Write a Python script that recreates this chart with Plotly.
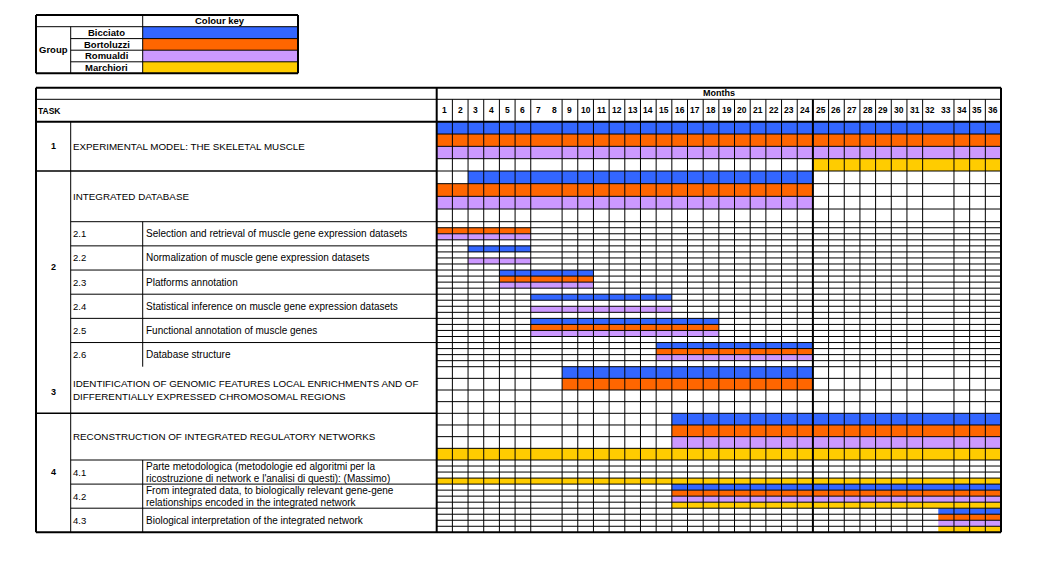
import plotly.graph_objects as go
import numpy as np

W, H = 1040, 588

# ---------------- data ----------------
groups = ["Bicciato", "Bortoluzzi", "Romualdi", "Marchiori"]
group_colors = ["#3366FF", "#FF6600", "#CC99FF", "#FFCC00"]

task_ids = ["1", "2", "2.1", "2.2", "2.3", "2.4", "2.5", "2.6", "3", "4", "4.1", "4.2", "4.3"]

# (first month, last month) of each group's activity per task row, None = no activity
bicciato_months = [(1, 36), (3, 24), None, (3, 6), (5, 10), (7, 15), (7, 18), (15, 24), (9, 24), (16, 36), None, (16, 36), (33, 36)]
bortoluzzi_months = [(1, 36), (1, 24), (1, 6), None, (5, 10), None, (7, 18), (15, 24), (9, 24), (16, 36), None, (16, 36), (33, 36)]
romualdi_months = [(1, 36), (1, 24), (1, 6), (3, 6), (5, 10), (7, 15), (7, 18), (15, 24), None, (16, 36), None, (16, 36), (33, 36)]
marchiori_months = [(25, 36), None, None, None, None, None, None, None, None, (1, 36), (1, 36), (16, 36), (33, 36)]
group_months = [bicciato_months, bortoluzzi_months, romualdi_months, marchiori_months]

month_labels = ["1", "2", "3", "4", "5", "6", "7", "8", "9", "10", "11", "12",
                "13", "14", "15", "16", "17", "18", "19", "20", "21", "22", "23", "24",
                "25", "26", "27", "28", "29", "30", "31", "32", "33", "34", "35", "36"]

main_tasks = {
    "1": ["EXPERIMENTAL MODEL: THE SKELETAL MUSCLE"],
    "2": ["INTEGRATED DATABASE"],
    "3": ["IDENTIFICATION OF GENOMIC FEATURES LOCAL ENRICHMENTS AND OF",
          "DIFFERENTIALLY EXPRESSED CHROMOSOMAL REGIONS"],
    "4": ["RECONSTRUCTION OF INTEGRATED REGULATORY NETWORKS"],
}
sub_tasks = {
    "2.1": ["Selection and retrieval of muscle gene expression datasets"],
    "2.2": ["Normalization of muscle gene expression datasets"],
    "2.3": ["Platforms annotation"],
    "2.4": ["Statistical inference on muscle gene expression datasets"],
    "2.5": ["Functional annotation of muscle genes"],
    "2.6": ["Database structure"],
    "4.1": ["Parte metodologica (metodologie ed algoritmi per la",
            "ricostruzione di network e l'analisi di questi): (Massimo)"],
    "4.2": ["From integrated data, to biologically relevant gene-gene",
            "relationships encoded in the integrated network"],
    "4.3": ["Biological interpretation of the integrated network"],
}

# ---------------- layout constants (pixels, page coordinates) ----------------
PAGE_OFF = 8.0  # default body margin of the html page
SEC_H = [49.3, 50.7, 24.167, 24.167, 24.167, 24.167, 24.167, 24.167, 46.6, 46.7, 24.1, 24.1, 24.1]
GRID_TOP = 121.7
TABLE_TOP = 87.7
MONTHS_ROW_BOT = 99.3
X_LEFT, X_TASKCOL, X_SUBCOL, X_GRID0, X_GRID1 = 36.0, 70.7, 142.7, 436.7, 1001.0

bounds = np.concatenate([[0.0], np.cumsum(SEC_H)])
TOTAL = bounds[-1]
GRID_BOT = GRID_TOP + TOTAL
N_MONTHS = len(month_labels)


def px2x(x):
    return (x - PAGE_OFF) / W


def px2y(y):
    return 1 - (y - PAGE_OFF) / H


FONT = "Liberation Sans, Arial, sans-serif"
fig = go.Figure()

# ---------------- bars ----------------
for gi, (gname, col, months) in enumerate(zip(groups, group_colors, group_months)):
    ys, xs, bases, widths = [], [], [], []
    for ti, mm in enumerate(months):
        if mm is None:
            continue
        s, e = mm
        h = SEC_H[ti] / 4.0
        ys.append(bounds[ti] + (gi + 0.5) * h)
        bases.append(s - 1)
        xs.append(e - s + 1)
        widths.append(h)
    fig.add_trace(go.Bar(
        orientation="h", y=ys, x=xs, base=bases, width=widths,
        marker=dict(color=col, line=dict(width=0)), name=gname,
        hoverinfo="skip", showlegend=False,
    ))

shapes = []

# ---------------- grid lines (month axis) ----------------
y_months_bot = MONTHS_ROW_BOT - GRID_TOP
for k in range(1, N_MONTHS):
    if k in (7, 32):  # merged header cells 7-8 and 32-33
        continue
    lw = 2 if k == 24 else 1
    shapes.append(dict(type="line", xref="x", yref="y", x0=k, x1=k, y0=y_months_bot, y1=TOTAL,
                       line=dict(color="black", width=lw), layer="above"))

for ti in range(len(SEC_H)):
    h = SEC_H[ti] / 4.0
    for j in range(1, 5):
        yy = bounds[ti] + j * h
        if ti == len(SEC_H) - 1 and j == 4:
            continue
        shapes.append(dict(type="line", xref="x", yref="y", x0=0, x1=N_MONTHS, y0=yy, y1=yy,
                           line=dict(color="black", width=1), layer="above"))


# ---------------- table frame (paper) ----------------
def pline(x0, y0, x1, y1, w=1):
    shapes.append(dict(type="line", xref="paper", yref="paper",
                       x0=px2x(x0), x1=px2x(x1), y0=px2y(y0), y1=px2y(y1),
                       line=dict(color="black", width=w), layer="above"))


pline(X_LEFT, TABLE_TOP, X_GRID1, TABLE_TOP, 2)
pline(X_LEFT, GRID_BOT, X_GRID1, GRID_BOT, 2)
pline(X_LEFT, TABLE_TOP, X_LEFT, GRID_BOT, 2)
pline(X_GRID1, TABLE_TOP, X_GRID1, GRID_BOT, 2)
pline(X_GRID0, TABLE_TOP, X_GRID0, GRID_BOT, 2)
pline(X_LEFT, MONTHS_ROW_BOT, X_GRID1, MONTHS_ROW_BOT, 1)
pline(X_LEFT, GRID_TOP, X_GRID1, GRID_TOP, 2)
pline(X_TASKCOL, GRID_TOP, X_TASKCOL, GRID_BOT, 1)

idx = {t: i for i, t in enumerate(task_ids)}
# main task separators
pline(X_LEFT, GRID_TOP + bounds[idx["2"]], X_GRID0, GRID_TOP + bounds[idx["2"]], 1.5)
pline(X_LEFT, GRID_TOP + bounds[idx["4"]], X_GRID0, GRID_TOP + bounds[idx["4"]], 1.5)
# subtask separators
for t in ["2.1", "2.2", "2.3", "2.4", "2.5", "2.6", "4.1", "4.2", "4.3"]:
    i = idx[t]
    pline(X_TASKCOL, GRID_TOP + bounds[i], X_GRID0, GRID_TOP + bounds[i], 1)
pline(X_SUBCOL, GRID_TOP + bounds[idx["2.1"]], X_SUBCOL, GRID_TOP + bounds[idx["2.6"] + 1], 1)
pline(X_SUBCOL, GRID_TOP + bounds[idx["4.1"]], X_SUBCOL, GRID_TOP + bounds[idx["4.3"] + 1], 1)

# ---------------- colour key ----------------
LK_X0, LK_X1, LK_X2, LK_X3 = 36.0, 70.7, 142.7, 298.0
LK_Y = [15.0, 26.7, 38.6, 50.2, 61.8, 73.3]
for gi, col in enumerate(group_colors):
    shapes.append(dict(type="rect", xref="paper", yref="paper",
                       x0=px2x(LK_X2), x1=px2x(LK_X3), y0=px2y(LK_Y[gi + 1]), y1=px2y(LK_Y[gi + 2]),
                       fillcolor=col, line=dict(width=0), layer="below"))
pline(LK_X0, LK_Y[0], LK_X3, LK_Y[0], 2)
pline(LK_X0, LK_Y[-1], LK_X3, LK_Y[-1], 2)
pline(LK_X0, LK_Y[0], LK_X0, LK_Y[-1], 2)
pline(LK_X3, LK_Y[0], LK_X3, LK_Y[-1], 2)
pline(LK_X0, LK_Y[1], LK_X3, LK_Y[1], 1)
for yy in LK_Y[2:5]:
    pline(LK_X1, yy, LK_X3, yy, 1)
pline(LK_X1, LK_Y[1], LK_X1, LK_Y[-1], 1)
pline(LK_X2, LK_Y[0], LK_X2, LK_Y[-1], 1)

# ---------------- text ----------------
ann = []


def ptext(x, y, s, anchor="left", bold=False, size=9):
    ann.append(dict(xref="paper", yref="paper", x=px2x(x), y=px2y(y), text=("<b>%s</b>" % s) if bold else s,
                    showarrow=False, xanchor=anchor, yanchor="middle",
                    font=dict(family=FONT, size=size, color="black")))


ptext((LK_X2 + LK_X3) / 2, (LK_Y[0] + LK_Y[1]) / 2, "Colour key", "center", True, 9.5)
for gi, g in enumerate(groups):
    ptext((LK_X1 + LK_X2) / 2, (LK_Y[gi + 1] + LK_Y[gi + 2]) / 2, g, "center", True, 9.5)
ptext((LK_X0 + LK_X1) / 2, (LK_Y[1] + LK_Y[-1]) / 2, "Group", "center", True, 9.5)

ptext((X_GRID0 + X_GRID1) / 2, (TABLE_TOP + MONTHS_ROW_BOT) / 2 - 0.5, "Months", "center", True, 9)
ptext(X_LEFT, (MONTHS_ROW_BOT + GRID_TOP) / 2, "TASK", "left", True, 8.5)

for m, lab in enumerate(month_labels):
    ann.append(dict(xref="x", yref="y", x=m + 0.5, y=(MONTHS_ROW_BOT - GRID_TOP) / 2, text="<b>%s</b>" % lab,
                    showarrow=False, xanchor="center", yanchor="middle",
                    font=dict(family=FONT, size=8.5, color="black")))

LINE_GAP = 12.8
# main tasks
for t, lines in main_tasks.items():
    i = idx[t]
    cy = GRID_TOP + (bounds[i] + bounds[i + 1]) / 2
    n = len(lines)
    for k, s in enumerate(lines):
        ptext(X_TASKCOL + 0.5, cy + (k - (n - 1) / 2) * LINE_GAP, s, size=9.8)
# task numbers in first column
num_y = {
    "1": GRID_TOP + (bounds[idx["1"]] + bounds[idx["1"] + 1]) / 2,
    "2": GRID_TOP + (bounds[idx["2"]] + bounds[idx["2.6"] + 1]) / 2 - 2,
    "3": GRID_TOP + (bounds[idx["3"]] + bounds[idx["3"] + 1]) / 2 + 2,
    "4": GRID_TOP + (bounds[idx["4"]] + bounds[idx["4.3"] + 1]) / 2 - 1,
}
for t, yy in num_y.items():
    ptext((X_LEFT + X_TASKCOL) / 2, yy, t, "center", True)
# subtasks
for t, lines in sub_tasks.items():
    i = idx[t]
    cy = GRID_TOP + (bounds[i] + bounds[i + 1]) / 2
    ptext(X_TASKCOL + 0.5, cy, t, size=9.5)
    n = len(lines)
    for k, s in enumerate(lines):
        ptext(X_SUBCOL + 1.5, cy + (k - (n - 1) / 2) * 12.0, s, size=10)

# ---------------- axes ----------------
fig.update_layout(
    width=W, height=H, margin=dict(l=0, r=0, t=0, b=0),
    paper_bgcolor="white", plot_bgcolor="white",
    barmode="overlay", showlegend=False,
    shapes=shapes, annotations=ann,
    xaxis=dict(domain=[px2x(X_GRID0), px2x(X_GRID1)], range=[0, N_MONTHS],
               showgrid=False, zeroline=False, showticklabels=False, ticks="", fixedrange=True),
    yaxis=dict(domain=[px2y(GRID_BOT), px2y(TABLE_TOP)], range=[TOTAL, TABLE_TOP - GRID_TOP],
               showgrid=False, zeroline=False, showticklabels=False, ticks="", fixedrange=True),
)

fig.write_html("out.html")
